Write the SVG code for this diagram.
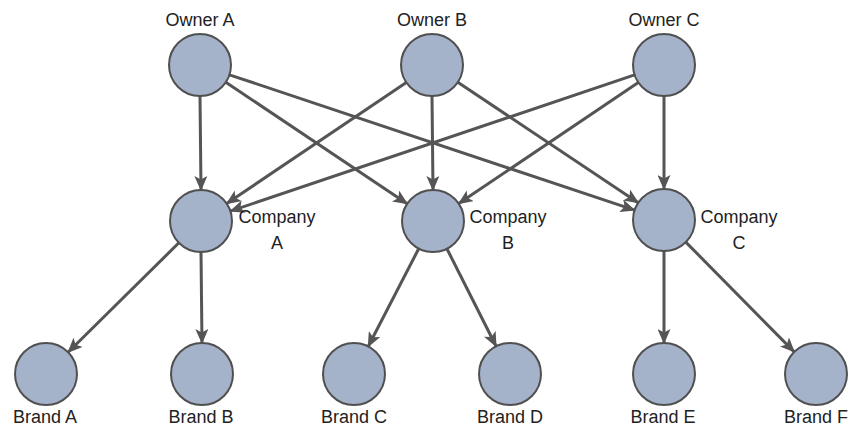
<svg xmlns="http://www.w3.org/2000/svg" width="852" height="428" viewBox="0 0 852 428">
<defs>
<style>
.n{fill:#a4b2ca;stroke:#505050;stroke-width:2}
.e{stroke:#555;stroke-width:3;fill:none;marker-end:url(#ah)}
text{font-family:"Liberation Sans",Arial,sans-serif;font-size:18px;fill:#222}
.c{text-anchor:middle}
</style>
<marker id="ah" markerUnits="userSpaceOnUse" markerWidth="17" markerHeight="13" refX="14" refY="6.5" orient="auto">
<path d="M0,0 L15,6.5 L0,13 L3.5,6.5 Z" fill="#555"/>
</marker>
</defs>
<rect width="852" height="428" fill="#fff"/>
<g id="connectors">
<line class="e" x1="200" y1="96" x2="201" y2="190"/>
<line class="e" x1="225.8" y1="82.2" x2="407.2" y2="203.8"/>
<line class="e" x1="229.4" y1="74.8" x2="634.6" y2="210.2"/>
<line class="e" x1="406.3" y1="82.4" x2="226.7" y2="203.6"/>
<line class="e" x1="432" y1="96" x2="433" y2="190"/>
<line class="e" x1="457.8" y1="82.2" x2="638.2" y2="202.8"/>
<line class="e" x1="634.6" y1="74.9" x2="230.4" y2="211.1"/>
<line class="e" x1="638.3" y1="82.4" x2="458.7" y2="203.6"/>
<line class="e" x1="664" y1="96" x2="664" y2="189"/>
<line class="e" x1="178.9" y1="242.8" x2="68.1" y2="352.2"/>
<line class="e" x1="201" y1="252" x2="202" y2="343"/>
<line class="e" x1="418.8" y1="248.5" x2="368.2" y2="346.5"/>
<line class="e" x1="446.9" y1="248.7" x2="496.1" y2="346.3"/>
<line class="e" x1="664" y1="251" x2="664" y2="343"/>
<line class="e" x1="685.8" y1="242.1" x2="794.2" y2="351.9"/>
</g>
<g id="ownerA"><circle class="n" cx="200" cy="65" r="31"/><text class="c" x="200" y="26">Owner A</text></g>
<g id="ownerB"><circle class="n" cx="432" cy="65" r="31"/><text class="c" x="432" y="26">Owner B</text></g>
<g id="ownerC"><circle class="n" cx="664" cy="65" r="31"/><text class="c" x="664" y="26">Owner C</text></g>
<g id="companyA"><circle class="n" cx="201" cy="221" r="31"/><text class="c" x="277" y="223">Company</text><text class="c" x="277" y="249">A</text></g>
<g id="companyB"><circle class="n" cx="433" cy="221" r="31"/><text class="c" x="508" y="223">Company</text><text class="c" x="508" y="249">B</text></g>
<g id="companyC"><circle class="n" cx="664" cy="220" r="31"/><text class="c" x="739" y="223">Company</text><text class="c" x="739" y="249">C</text></g>
<g id="brandA"><circle class="n" cx="46" cy="374" r="31"/><text class="c" x="45" y="423">Brand A</text></g>
<g id="brandB"><circle class="n" cx="202" cy="374" r="31"/><text class="c" x="201" y="423">Brand B</text></g>
<g id="brandC"><circle class="n" cx="354" cy="374" r="31"/><text class="c" x="354" y="423">Brand C</text></g>
<g id="brandD"><circle class="n" cx="510" cy="374" r="31"/><text class="c" x="510" y="423">Brand D</text></g>
<g id="brandE"><circle class="n" cx="664" cy="374" r="31"/><text class="c" x="663" y="423">Brand E</text></g>
<g id="brandF"><circle class="n" cx="816" cy="374" r="31"/><text class="c" x="816" y="423">Brand F</text></g>
</svg>
